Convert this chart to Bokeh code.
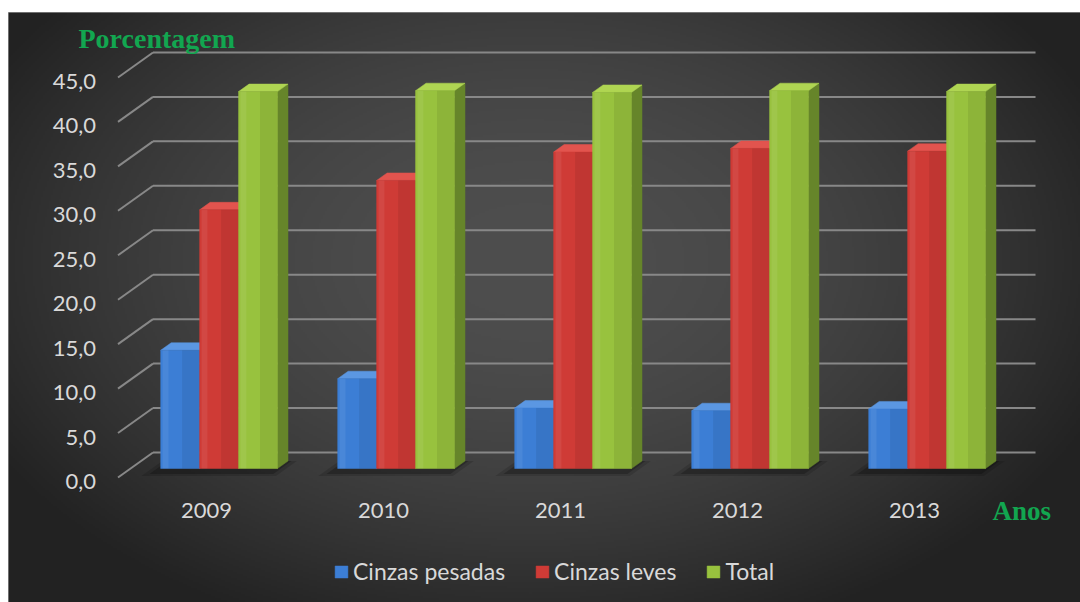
import numpy as np
from bokeh.plotting import figure
from bokeh.models import Legend, LegendItem, Range1d
from bokeh.core.properties import value
from bokeh.embed import file_html
from bokeh.resources import INLINE

# ---------------- data ----------------
years = ["2009", "2010", "2011", "2012", "2013"]
cinzas_pesadas = [13.3, 10.1, 6.8, 6.5, 6.7]
cinzas_leves = [29.1, 32.4, 35.6, 36.0, 35.7]
total = [42.4, 42.5, 42.3, 42.5, 42.4]
series_names = ["Cinzas pesadas", "Cinzas leves", "Total"]
y_ticks = [0, 5, 10, 15, 20, 25, 30, 35, 40, 45]
y_tick_labels = ["0,0", "5,0", "10,0", "15,0", "20,0", "25,0", "30,0", "35,0", "40,0", "45,0"]
y_title = "Porcentagem"
x_title = "Anos"

# ---------------- geometry / style ----------------
PXX = 177.0          # screen px per category unit
PXY = 8.89           # screen px per percentage unit
DX = 35.0 / PXX      # full depth shift (x, data units)
DY = 25.0 / PXY      # full depth shift (y, data units)
D0, D1 = 0.36, 0.66  # bar depth (front, back)
BAR_W = 0.22
offsets = [-0.33, -0.11, 0.11]

colors = [
    dict(front="#3c7ed5", side="#2a5a9c", top="#5b97e2"),
    dict(front="#cf3b36", side="#972622", top="#e2544e"),
    dict(front="#98c23e", side="#66852a", top="#afd552"),
]

W, H = 1080, 602
ML, MT = 8, 12
FX0 = 206.0   # screen x of category 0 (front plane)
FY0 = 477.0   # screen y of value 0 (front plane)

x_start = (ML - FX0) / PXX
x_end = (W - FX0) / PXX
y_end = (FY0 - MT) / PXY
y_start = (FY0 - H) / PXY

p = figure(width=W, height=H, x_range=Range1d(x_start, x_end), y_range=Range1d(y_start, y_end),
           x_axis_type=None, y_axis_type=None, toolbar_location=None, output_backend="svg",
           min_border_left=ML, min_border_top=MT, min_border_right=0, min_border_bottom=0,
           background_fill_color="#262626", border_fill_color="white",
           outline_line_color="#8a8a8a", outline_line_width=1)
p.grid.visible = False

# ---------------- background radial gradient ----------------
gw, gh = (W - ML) // 2, (H - MT) // 2
cols = ML + (np.arange(gw) + 0.5) * 2
rows = H - (np.arange(gh) + 0.5) * 2  # row 0 at bottom
PX, PY = np.meshgrid(cols, rows)
r2 = ((PX - 530) / 620.0) ** 2 + ((PY - 260) / 400.0) ** 2
c = 34 + 44 * np.clip(1 - r2, 0, 1) ** 1.1
c = c.astype(np.uint32)
img = ((255 << 24) | (c << 16) | (c << 8) | c).astype(np.uint32)
p.image_rgba(image=[img], x=x_start, y=y_start, dw=x_end - x_start, dh=y_end - y_start)

# ---------------- gridlines (back wall + left wall diagonals) ----------------
wall_left, wall_right = -0.5, 4.486
p.segment(x0=[wall_left + DX] * len(y_ticks), y0=[v + DY for v in y_ticks],
          x1=[wall_right + DX] * len(y_ticks), y1=[v + DY for v in y_ticks],
          line_color="#888888", line_width=2)
p.segment(x0=[wall_left] * len(y_ticks), y0=y_ticks,
          x1=[wall_left + DX] * len(y_ticks), y1=[v + DY for v in y_ticks],
          line_color="#888888", line_width=2)

# ---------------- floor shadows ----------------
n = len(years)
for grow, alpha, d_a in ((0.05, 0.14, D0 - 0.30), (0.02, 0.22, D0 - 0.22)):
    sx, sy = [], []
    for i in range(n):
        xl = i + offsets[0] - grow
        xr = i + offsets[-1] + BAR_W + grow
        d_b = D1
        sx.append([xl + d_a * DX, xr + d_a * DX, xr + d_b * DX, xl + d_b * DX])
        sy.append([d_a * DY, d_a * DY, d_b * DY, d_b * DY])
    p.patches(xs=sx, ys=sy, fill_color="black", fill_alpha=alpha, line_alpha=0)

# ---------------- 3D bars ----------------
front_renderers = []
for k, vals in enumerate([cinzas_pesadas, cinzas_leves, total]):
    fx, fy, sx, sy, tx, ty, hx, hy, dxs, dys = [], [], [], [], [], [], [], [], [], []
    for i, v in enumerate(vals):
        xl = i + offsets[k]
        xr = xl + BAR_W
        a0x, a0y = D0 * DX, D0 * DY
        a1x, a1y = D1 * DX, D1 * DY
        fx.append([xl + a0x, xr + a0x, xr + a0x, xl + a0x])
        fy.append([a0y, a0y, v + a0y, v + a0y])
        sx.append([xr + a0x, xr + a1x, xr + a1x, xr + a0x])
        sy.append([a0y, a1y, v + a1y, v + a0y])
        tx.append([xl + a0x, xr + a0x, xr + a1x, xl + a1x])
        ty.append([v + a0y, v + a0y, v + a1y, v + a1y])
        # subtle shading on the front face: light band left, darker band right
        m1, m2 = xl + 0.2 * BAR_W + a0x, xl + 0.55 * BAR_W + a0x
        hx.append([xl + 0.05 * BAR_W + a0x, m1, m1, xl + 0.05 * BAR_W + a0x])
        hy.append([a0y, a0y, v + a0y, v + a0y])
        dxs.append([m2, xr + a0x, xr + a0x, m2])
        dys.append([a0y, a0y, v + a0y, v + a0y])
    col = colors[k]
    p.patches(xs=sx, ys=sy, fill_color=col["side"], line_color=col["side"], line_width=0.5)
    p.patches(xs=tx, ys=ty, fill_color=col["top"], line_color=col["top"], line_width=0.5)
    r = p.patches(xs=fx, ys=fy, fill_color=col["front"], line_color=col["front"], line_width=0.5)
    p.patches(xs=hx, ys=hy, fill_color="white", fill_alpha=0.07, line_alpha=0)
    p.patches(xs=dxs, ys=dys, fill_color="black", fill_alpha=0.07, line_alpha=0)
    front_renderers.append(r)

# ---------------- tick labels & titles ----------------
LABEL_COLOR = "#d9d9d9"
p.text(x=[wall_left] * len(y_ticks), y=[v - 4.0 / PXY for v in y_ticks], text=y_tick_labels,
       x_offset=-22, text_align="right", text_baseline="alphabetic",
       text_font=value("Lato"), text_font_size=value("22px"), text_color=LABEL_COLOR)
p.text(x=list(range(n)), y=[-33.0 / PXY] * n, text=years,
       text_align="center", text_baseline="alphabetic",
       text_font=value("Lato"), text_font_size=value("22px"), text_color=LABEL_COLOR)
p.text(x=[(78 - FX0) / PXX], y=[(FY0 - 38) / PXY], text=[y_title],
       text_align="left", text_baseline="alphabetic",
       text_font=value("Liberation Serif"), text_font_style="bold",
       text_font_size=value("28px"), text_color="#12a650")
p.text(x=[(992 - FX0) / PXX], y=[(FY0 - 510) / PXY], text=[x_title],
       text_align="left", text_baseline="alphabetic",
       text_font=value("Liberation Serif"), text_font_style="bold",
       text_font_size=value("27px"), text_color="#12a650")

# ---------------- legend ----------------
legend = Legend(items=[LegendItem(label=series_names[k], renderers=[front_renderers[k]]) for k in range(3)],
                orientation="horizontal", location=(325, 17),
                glyph_width=16, glyph_height=15, label_standoff=4, spacing=29,
                label_text_font="Lato", label_text_font_size="23px", label_text_color=LABEL_COLOR,
                background_fill_alpha=0, border_line_alpha=0, padding=0, margin=0)
p.add_layout(legend)

open("out.html", "w").write(file_html(p, INLINE))
